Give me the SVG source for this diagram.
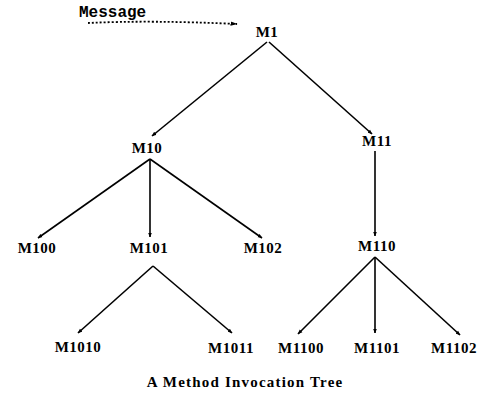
<svg xmlns="http://www.w3.org/2000/svg" width="480" height="406" viewBox="0 0 480 406">
<style>
.lbl{font-family:"Liberation Serif","DejaVu Serif",serif;font-size:15px;font-weight:bold;fill:#000;text-anchor:middle;letter-spacing:0.5px}
.edge{stroke:#000;stroke-width:1.6;fill:none;marker-end:url(#ah)}
.msg{font-family:"Liberation Mono","DejaVu Sans Mono",monospace;font-size:16px;font-weight:bold;fill:#000}
.title{font-family:"Liberation Serif","DejaVu Serif",serif;font-size:15px;font-weight:bold;fill:#000;text-anchor:middle;letter-spacing:1.2px}
</style>
<defs>
<marker id="ah" viewBox="0 0 10 10" refX="9" refY="5" markerWidth="3" markerHeight="3" orient="auto" markerUnits="strokeWidth">
<path d="M0,1 L10,5 L0,9 z" fill="#000"/>
</marker>
<marker id="ahd" viewBox="0 0 10 10" refX="9" refY="5" markerWidth="4" markerHeight="4" orient="auto" markerUnits="strokeWidth">
<path d="M0,2 L10,5 L0,8 z" fill="#000"/>
</marker>
</defs>
<g id="connectors">
<path d="M88,23 Q150,20 237,24" stroke="#000" stroke-width="1.8" stroke-dasharray="2,2" fill="none" marker-end="url(#ahd)"/>
<line class="edge" x1="267" y1="42" x2="152" y2="136"/>
<line class="edge" x1="269" y1="42" x2="372" y2="134"/>
<line class="edge" x1="150" y1="159" x2="38" y2="238"/>
<line class="edge" x1="150" y1="159" x2="150" y2="237"/>
<line class="edge" x1="150" y1="159" x2="262" y2="238"/>
<line class="edge" x1="375" y1="151" x2="375" y2="236"/>
<line class="edge" x1="153" y1="266" x2="78" y2="333"/>
<line class="edge" x1="153" y1="266" x2="232" y2="333"/>
<line class="edge" x1="375" y1="257" x2="298" y2="334"/>
<line class="edge" x1="375" y1="257" x2="375" y2="333"/>
<line class="edge" x1="375" y1="257" x2="460" y2="335"/>
</g>
<g id="message"><text class="msg" x="79" y="17">Message</text></g>
<g id="M1"><text class="lbl" x="267" y="37">M1</text></g>
<g id="M10"><text class="lbl" x="147" y="153">M10</text></g>
<g id="M11"><text class="lbl" x="377" y="146">M11</text></g>
<g id="M100"><text class="lbl" x="37" y="253">M100</text></g>
<g id="M101"><text class="lbl" x="149" y="253">M101</text></g>
<g id="M102"><text class="lbl" x="263" y="253">M102</text></g>
<g id="M110"><text class="lbl" x="377" y="251">M110</text></g>
<g id="M1010"><text class="lbl" x="78" y="352">M1010</text></g>
<g id="M1011"><text class="lbl" x="231" y="353">M1011</text></g>
<g id="M1100"><text class="lbl" x="301" y="353">M1100</text></g>
<g id="M1101"><text class="lbl" x="377" y="353">M1101</text></g>
<g id="M1102"><text class="lbl" x="454" y="353">M1102</text></g>
<g id="title"><text class="title" x="245" y="387">A Method Invocation Tree</text></g>
</svg>
